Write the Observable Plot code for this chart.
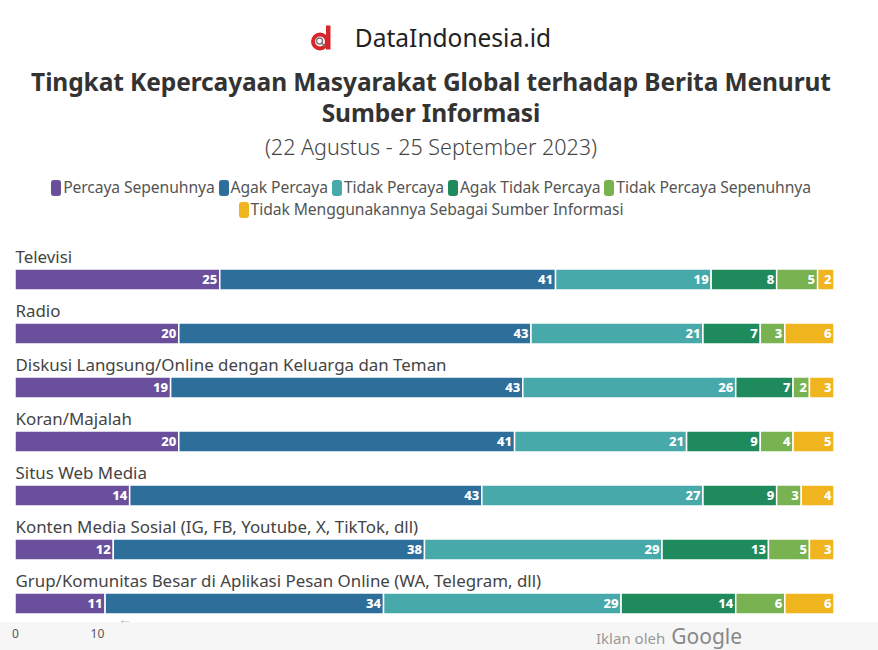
<!DOCTYPE html>
<html>
<head>
<meta charset="utf-8">
<script src="https://cdn.jsdelivr.net/npm/d3@7"></script>
<script src="https://cdn.jsdelivr.net/npm/@observablehq/plot@0.6"></script>
<style>
  html, body { margin: 0; padding: 0; background: #fff; width: 878px; height: 650px; overflow: hidden; font-family: "Noto Sans", sans-serif; }
  .abs { position: absolute; left: 0; width: 862px; text-align: center; }
  #brand { top: 21px; height: 34px; line-height: 34px; font-size: 24.5px; color: #222; }
  #brand svg { vertical-align: -5px; margin-right: 22px; }
  #title { top: 66px; font-size: 24.5px; font-weight: 700; line-height: 31px; color: #333; letter-spacing: -0.1px; }
  #subtitle { top: 133px; font-size: 21.5px; line-height: 28px; color: #444; font-weight: 300; }
  #legend { top: 176px; font-size: 15.7px; line-height: 22px; color: #555; letter-spacing: -0.1px; }
  .sw { display: inline-block; width: 10px; height: 16px; border-radius: 3px; vertical-align: -3px; margin-right: 2px; }
  #adstrip { position: absolute; left: 0; top: 622px; width: 878px; height: 28px; background: #f6f6f6; }
  #ad { position: absolute; left: 596px; top: 625px; color: #999; font-size: 15px; white-space: nowrap; line-height: 23px; }
  #ad b { font-size: 21px; font-weight: 400; color: #888; margin-left: 6px; }
  #arrow { position: absolute; left: 118px; top: 609px; color: #bbb; font-size: 14px; }
  #chart { position: absolute; left: 0; top: 240px; }
</style>
</head>
<body>
<div id="adstrip"></div>
<div id="ad">Iklan oleh<b>Google</b></div>
<div id="arrow">←</div>
<div id="brand" class="abs"><svg width="22" height="27" viewBox="0 0 22 26"><circle cx="9" cy="16" r="7" fill="none" stroke="#d7262b" stroke-width="4"/><rect x="15" y="0" width="4.5" height="24" fill="#d7262b"/><circle cx="8.5" cy="15.5" r="3" fill="none" stroke="#777" stroke-width="1.4"/><line x1="10.5" y1="17.5" x2="14" y2="21" stroke="#777" stroke-width="1.6"/></svg>DataIndonesia.id</div>
<div id="title" class="abs">Tingkat Kepercayaan Masyarakat Global terhadap Berita Menurut<br>Sumber Informasi</div>
<div id="subtitle" class="abs">(22 Agustus - 25 September 2023)</div>
<div id="legend" class="abs"></div>
<div id="chart"></div>
<script>
const categories = [
  "Televisi",
  "Radio",
  "Diskusi Langsung/Online dengan Keluarga dan Teman",
  "Koran/Majalah",
  "Situs Web Media",
  "Konten Media Sosial (IG, FB, Youtube, X, TikTok, dll)",
  "Grup/Komunitas Besar di Aplikasi Pesan Online (WA, Telegram, dll)"
];
const seriesNames = [
  "Percaya Sepenuhnya",
  "Agak Percaya",
  "Tidak Percaya",
  "Agak Tidak Percaya",
  "Tidak Percaya Sepenuhnya",
  "Tidak Menggunakannya Sebagai Sumber Informasi"
];
const seriesColors = ["#6a4f9c", "#2d6e9b", "#47a9aa", "#1f8a5b", "#79b250", "#f0b41e"];

const percayaSepenuhnya      = [25, 20, 19, 20, 14, 12, 11];
const agakPercaya            = [41, 43, 43, 41, 43, 38, 34];
const tidakPercaya           = [19, 21, 26, 21, 27, 29, 29];
const agakTidakPercaya       = [8, 7, 7, 9, 9, 13, 14];
const tidakPercayaSepenuhnya = [5, 3, 2, 4, 3, 5, 6];
const tidakMenggunakan       = [2, 6, 3, 5, 4, 3, 6];
const axisTicks = [0, 10];

const seriesValues = [percayaSepenuhnya, agakPercaya, tidakPercaya, agakTidakPercaya, tidakPercayaSepenuhnya, tidakMenggunakan];
const data = [];
categories.forEach((c, i) => {
  seriesNames.forEach((s, j) => data.push({ cat: c, series: s, value: seriesValues[j][i] }));
});

// Legend
const legend = document.getElementById("legend");
const mk = (j) => `<span class="sw" style="background:${seriesColors[j]}"></span>${seriesNames[j]}`;
legend.innerHTML = `<div>${[0,1,2,3,4].map(mk).join(" ")}</div><div>${mk(5)}</div>`;

const chart = Plot.plot({
  width: 878,
  height: 410,
  marginLeft: 15,
  marginRight: 44,
  marginTop: 29,
  marginBottom: 35,
  style: { fontFamily: "Noto Sans, sans-serif", background: "transparent" },
  x: { domain: [0, 100], axis: null },
  y: { domain: categories, axis: null, paddingInner: 0.61, paddingOuter: 0 },
  color: { domain: seriesNames, range: seriesColors },
  marks: [
    Plot.barX(data, Plot.stackX({ x: "value", y: "cat", fill: "series", order: seriesNames, stroke: "white", strokeWidth: 1.5 })),
    Plot.text(data, Plot.stackX2({ x: "value", y: "cat", z: "series", order: seriesNames, text: "value", textAnchor: "end", dx: -3, fill: "white", fontWeight: 800, fontSize: 13 })),
    Plot.text(categories, { x: 0, y: d => d, text: d => d, textAnchor: "start", dy: -22, fontSize: 16.9, fill: "#444" }),
    Plot.axisX({ ticks: axisTicks, tickSize: 0, tickPadding: 14, fontSize: 12, color: "#555", label: null })
  ]
});
document.getElementById("chart").appendChild(chart);
</script>
</body>
</html>
